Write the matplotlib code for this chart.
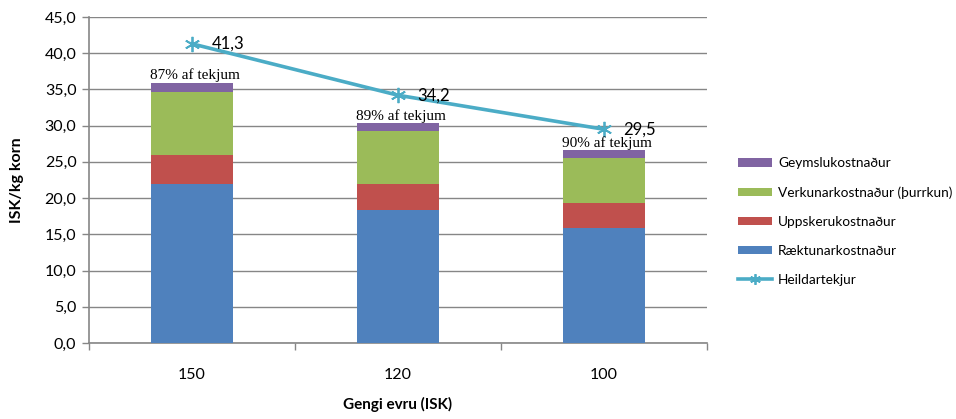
import matplotlib
matplotlib.use("Agg")
import matplotlib.pyplot as plt
import numpy as np

categories = ["150", "120", "100"]
raektun = [21.9, 18.3, 15.9]
uppskera = [4.1, 3.6, 3.4]
verkun = [8.6, 7.3, 6.2]
geymsla = [1.3, 1.1, 1.1]
tekjur = [41.3, 34.2, 29.5]
pct_labels = ["87% af tekjum", "89% af tekjum", "90% af tekjum"]

SANS = ["Lato", "DejaVu Sans"]
SERIF = ["Liberation Serif", "DejaVu Serif"]
plt.rcParams["font.family"] = SANS

fig = plt.figure(figsize=(9.56, 4.19), dpi=100)
ax = fig.add_axes([89/956, 1-343/419, (707-89)/956, (343-17)/419])

x = np.arange(len(categories))
w = 0.40
gray = "#868686"
c_blue, c_red, c_green, c_purple, c_line = "#4F81BD", "#C0504D", "#9BBB59", "#8064A2", "#4BACC6"

b1 = ax.bar(x, raektun, w, color=c_blue, label="Ræktunarkostnaður", zorder=3)
bot = np.array(raektun)
b2 = ax.bar(x, uppskera, w, bottom=bot, color=c_red, label="Uppskerukostnaður", zorder=3)
bot = bot + np.array(uppskera)
b3 = ax.bar(x, verkun, w, bottom=bot, color=c_green, label="Verkunarkostnaður (þurrkun)", zorder=3)
bot = bot + np.array(verkun)
b4 = ax.bar(x, geymsla, w, bottom=bot, color=c_purple, label="Geymslukostnaður", zorder=3)
totals = bot + np.array(geymsla)

ln, = ax.plot(x, tekjur, color=c_line, lw=2.6, marker=(6, 2, 0), ms=11,
              mew=1.3, mec=c_line, label="Heildartekjur", zorder=4)

for xi, v in zip(x, tekjur):
    ax.annotate(f"{v:.1f}".replace(".", ","), (xi, v), xytext=(14, 0),
                textcoords="offset points", va="center", ha="left",
                fontsize=12, color="black", zorder=5)

for xi, t, lab in zip(x, totals, pct_labels):
    ax.annotate(lab, (xi, t), xytext=(2, 0.5), textcoords="offset points",
                ha="center", va="bottom", fontsize=11, family=SERIF, zorder=5)

ax.set_xlim(-0.5, 2.5)
ax.set_ylim(0, 45)
ax.set_yticks(np.arange(0, 46, 5))
ax.set_yticklabels([f"{v:.1f}".replace(".", ",") for v in np.arange(0, 46, 5)], fontsize=11.5)
ax.set_xticks(x)
ax.set_xticklabels(categories, fontsize=11.5)
ax.set_xticks([-0.5, 0.5, 1.5, 2.5], minor=True)
ax.tick_params(axis="x", which="major", length=0, pad=18)
ax.tick_params(axis="x", which="minor", length=5, color=gray, width=1)
ax.tick_params(axis="y", length=5, color=gray, width=1, pad=4)

ax.yaxis.grid(True, color=gray, lw=1, zorder=0)
ax.set_axisbelow(True)
for s in ["top", "right"]:
    ax.spines[s].set_visible(False)
for s in ["left", "bottom"]:
    ax.spines[s].set_color(gray)
    ax.spines[s].set_linewidth(1.2)

ax.set_ylabel("ISK/kg korn", fontsize=11.5, fontweight="bold", labelpad=15)
ax.set_xlabel("Gengi evru (ISK)", fontsize=11, fontweight="bold", labelpad=11)

leg = fig.legend(handles=[b4, b3, b2, b1, ln], loc="upper left",
                 bbox_to_anchor=(733/956, 1-152/419), frameon=False, fontsize=9.8,
                 handlelength=2.5, handleheight=0.6, labelspacing=1.24,
                 handletextpad=0.4, markerscale=0.7, borderaxespad=0)

fig.savefig("out.png", dpi=100)
